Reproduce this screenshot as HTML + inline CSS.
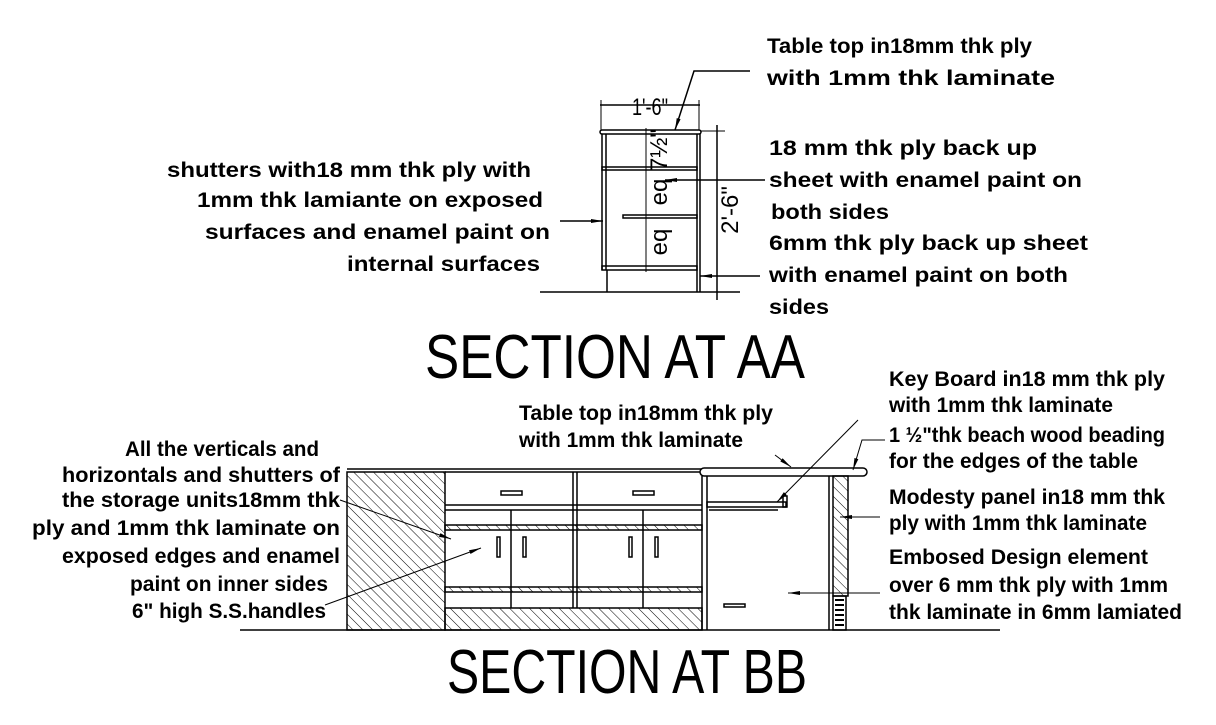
<!DOCTYPE html>
<html><head><meta charset="utf-8"><style>
body{margin:0;background:#fff}
svg{display:block}
text{font-family:"Liberation Sans",Arial,sans-serif;font-weight:bold;font-size:21px;fill:#000}
.t{font-weight:normal;font-size:62px}
.d{font-weight:normal;font-size:24px}
</style></head><body>
<svg width="1216" height="725" viewBox="0 0 1216 725" xmlns="http://www.w3.org/2000/svg">
<defs>
<pattern id="h" width="7" height="7" patternUnits="userSpaceOnUse" patternTransform="rotate(-45)">
<line x1="0" y1="0" x2="0" y2="7" stroke="#000" stroke-width="1"/></pattern>
<marker id="a" markerWidth="12" markerHeight="6" refX="12" refY="3" orient="auto" markerUnits="userSpaceOnUse"><path d="M0,1 L12,3 L0,5z" fill="#000"/></marker>
</defs>
<g stroke="#000" stroke-width="1.5" fill="none">
<rect x="600" y="130" width="101" height="4" rx="2"/>
<line x1="602" y1="134" x2="602" y2="270"/><line x1="606" y1="134" x2="606" y2="270"/>
<line x1="697" y1="134" x2="697" y2="292"/><line x1="700" y1="134" x2="700" y2="292"/>
<rect x="602" y="167" width="95" height="3"/>
<rect x="623" y="215" width="74" height="3"/>
<rect x="602" y="266" width="95" height="4"/>
<line x1="607" y1="270" x2="607" y2="292"/>
<line x1="540" y1="292" x2="740" y2="292"/>
<line x1="600" y1="105" x2="700" y2="105"/>
<line x1="601" y1="100" x2="601" y2="130" stroke-width="1"/><line x1="699" y1="100" x2="699" y2="130" stroke-width="1"/>
<line x1="717" y1="125" x2="717" y2="300"/>
<line x1="700" y1="131" x2="725" y2="131" stroke-width="1"/><line x1="705" y1="292" x2="725" y2="292" stroke-width="1"/>
<line x1="646" y1="128" x2="646" y2="272" stroke-width="1"/>
<polyline points="750,71 694,71 675,130" marker-end="url(#a)"/>
<line x1="765" y1="180" x2="665" y2="180" marker-end="url(#a)"/>
<line x1="560" y1="221" x2="603" y2="221" marker-end="url(#a)"/>
<line x1="760" y1="276" x2="700" y2="276" marker-end="url(#a)"/>
<rect x="347" y="472" width="98" height="158" fill="url(#h)"/>
<line x1="347" y1="469" x2="702" y2="469"/>
<line x1="445" y1="472" x2="702" y2="472"/>
<line x1="573" y1="472" x2="573" y2="608"/><line x1="577" y1="472" x2="577" y2="608"/>
<line x1="445" y1="505" x2="702" y2="505"/><line x1="445" y1="510" x2="702" y2="510"/>
<rect x="501" y="491" width="21" height="4"/><rect x="633" y="491" width="21" height="4"/>
<line x1="511" y1="510" x2="511" y2="608"/><line x1="643" y1="510" x2="643" y2="608"/>
<rect x="445" y="525" width="257" height="5" fill="url(#h)"/>
<rect x="445" y="587" width="257" height="5" fill="url(#h)"/>
<rect x="497" y="537" width="3" height="20"/><rect x="523" y="537" width="3" height="20"/>
<rect x="629" y="537" width="3" height="20"/><rect x="655" y="537" width="3" height="20"/>
<rect x="445" y="608" width="257" height="22" fill="url(#h)"/>
<line x1="240" y1="630" x2="1000" y2="630"/>
<rect x="700" y="468" width="167" height="8" rx="4" fill="#fff"/>
<line x1="702" y1="476" x2="702" y2="630"/><line x1="707" y1="476" x2="707" y2="630"/>
<line x1="829" y1="476" x2="829" y2="630"/>
<rect x="833" y="476" width="15" height="120" fill="url(#h)"/>
<rect x="833" y="596" width="13" height="34"/>
<path d="M835,600h9M835,605h9M835,610h9M835,615h9M835,620h9M835,625h9" stroke-width="2"/>
<rect x="707" y="502" width="79" height="5"/><line x1="709" y1="510" x2="778" y2="510"/>
<rect x="783" y="496" width="4" height="11"/>
<rect x="724" y="604" width="21" height="3"/>
<line x1="340" y1="500" x2="451" y2="539" stroke-width="1" marker-end="url(#a)"/>
<line x1="325" y1="605" x2="481" y2="548" stroke-width="1" marker-end="url(#a)"/>
<line x1="775" y1="455" x2="791" y2="467" stroke-width="1" marker-end="url(#a)"/>
<line x1="858" y1="420" x2="777" y2="502" stroke-width="1" marker-end="url(#a)"/>
<polyline points="885,440 862,440 853,470" stroke-width="1" marker-end="url(#a)"/>
<line x1="880" y1="517" x2="840" y2="517" stroke-width="1" marker-end="url(#a)"/>
<line x1="880" y1="593" x2="788" y2="593" stroke-width="1" marker-end="url(#a)"/>
</g>
<text class="d" x="632" y="115" textLength="36" lengthAdjust="spacingAndGlyphs">1'-6"</text>
<text class="d" transform="translate(738,210) rotate(-90)" text-anchor="middle">2'-6"</text>
<text class="d" transform="translate(667,150) rotate(-90)" text-anchor="middle">7½"</text>
<text class="d" transform="translate(667,192) rotate(-90)" text-anchor="middle">eq</text>
<text class="d" transform="translate(667,242) rotate(-90)" text-anchor="middle">eq</text>
<text lengthAdjust="spacingAndGlyphs" x="767" y="53" textLength="265">Table top in18mm thk ply</text>
<text lengthAdjust="spacingAndGlyphs" x="767" y="85" textLength="288">with 1mm thk laminate</text>
<text lengthAdjust="spacingAndGlyphs" x="769" y="155" textLength="268">18 mm thk ply  back up</text>
<text lengthAdjust="spacingAndGlyphs" x="769" y="187" textLength="313">sheet with enamel paint on</text>
<text lengthAdjust="spacingAndGlyphs" x="771" y="219" textLength="118">both sides</text>
<text lengthAdjust="spacingAndGlyphs" x="769" y="250" textLength="319">6mm thk ply  back up sheet</text>
<text lengthAdjust="spacingAndGlyphs" x="769" y="282" textLength="299">with enamel paint on both</text>
<text lengthAdjust="spacingAndGlyphs" x="769" y="314" textLength="60">sides</text>
<text lengthAdjust="spacingAndGlyphs" x="167" y="177" textLength="364">shutters with18 mm thk ply with</text>
<text lengthAdjust="spacingAndGlyphs" x="197" y="207" textLength="346">1mm thk lamiante on exposed</text>
<text lengthAdjust="spacingAndGlyphs" x="205" y="239" textLength="345">surfaces and enamel paint on</text>
<text lengthAdjust="spacingAndGlyphs" x="347" y="271" textLength="193">internal surfaces</text>
<text lengthAdjust="spacingAndGlyphs" class="t" x="425" y="378" textLength="380">SECTION AT  AA</text>
<text lengthAdjust="spacingAndGlyphs" class="t" x="447" y="693" textLength="360">SECTION AT  BB</text>
<text lengthAdjust="spacingAndGlyphs" x="889" y="386" textLength="276">Key Board  in18 mm thk ply</text>
<text lengthAdjust="spacingAndGlyphs" x="889" y="412" textLength="224">with 1mm thk laminate</text>
<text lengthAdjust="spacingAndGlyphs" x="889" y="442" textLength="276">1 ½"thk beach wood beading</text>
<text lengthAdjust="spacingAndGlyphs" x="889" y="468" textLength="249">for the edges of the table</text>
<text lengthAdjust="spacingAndGlyphs" x="889" y="504" textLength="276">Modesty panel in18 mm thk</text>
<text lengthAdjust="spacingAndGlyphs" x="889" y="530" textLength="258">ply with 1mm thk laminate</text>
<text lengthAdjust="spacingAndGlyphs" x="889" y="564" textLength="259">Embosed Design element</text>
<text lengthAdjust="spacingAndGlyphs" x="889" y="592" textLength="279">over 6 mm thk ply with 1mm</text>
<text lengthAdjust="spacingAndGlyphs" x="889" y="619" textLength="293">thk laminate in 6mm lamiated</text>
<text lengthAdjust="spacingAndGlyphs" x="519" y="420" textLength="254">Table top in18mm thk ply</text>
<text lengthAdjust="spacingAndGlyphs" x="519" y="447" textLength="224">with 1mm thk laminate</text>
<text lengthAdjust="spacingAndGlyphs" x="125" y="456" textLength="194">All the verticals and</text>
<text lengthAdjust="spacingAndGlyphs" x="62" y="482" textLength="278">horizontals and shutters of</text>
<text lengthAdjust="spacingAndGlyphs" x="62" y="507" textLength="278">the storage units18mm thk</text>
<text lengthAdjust="spacingAndGlyphs" x="32" y="535" textLength="308">ply and 1mm thk laminate  on</text>
<text lengthAdjust="spacingAndGlyphs" x="62" y="563" textLength="278">exposed edges and enamel</text>
<text lengthAdjust="spacingAndGlyphs" x="130" y="591" textLength="198">paint on inner sides</text>
<text lengthAdjust="spacingAndGlyphs" x="132" y="618" textLength="194">6" high S.S.handles</text>
</svg>
</body></html>
